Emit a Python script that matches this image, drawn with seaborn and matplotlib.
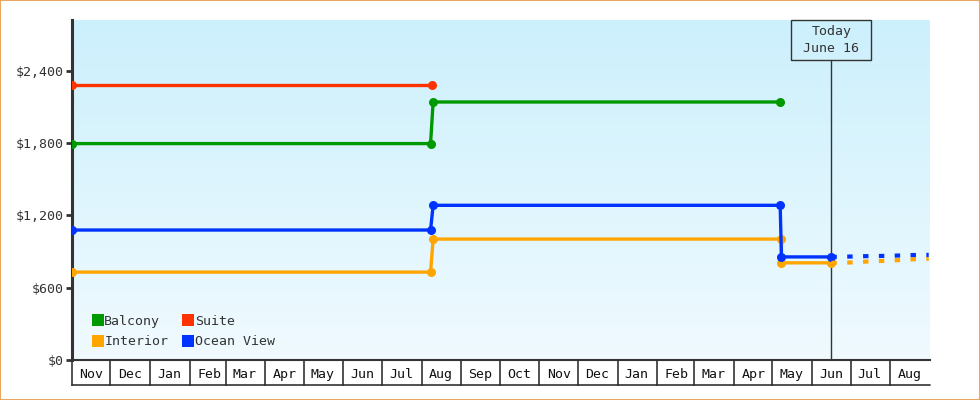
import numpy as np
import pandas as pd
import matplotlib
matplotlib.use("Agg")
import matplotlib.pyplot as plt
from matplotlib.colors import LinearSegmentedColormap
from matplotlib.lines import Line2D
from matplotlib.patches import Rectangle
import seaborn as sns

# ---- data ----
suite_dates = ['2022-11-01', '2023-08-09']
suite_price = [2280, 2280]

balcony_dates = ['2022-11-01', '2023-08-08', '2023-08-10', '2024-05-07']
balcony_price = [1795, 1795, 2140, 2140]

ocean_dates = ['2022-11-01', '2023-08-08', '2023-08-10', '2024-05-07', '2024-05-08', '2024-06-16']
ocean_price = [1078, 1078, 1283, 1283, 855, 855]

interior_dates = ['2022-11-01', '2023-08-08', '2023-08-10', '2024-05-08', '2024-05-08', '2024-06-16']
interior_price = [729, 729, 1003, 1003, 806, 806]

forecast_dates = ['2024-06-16', '2024-07-01', '2024-07-16', '2024-08-01', '2024-08-16', '2024-08-31']
ocean_forecast = [855, 858, 862, 864, 870, 872]
interior_forecast = [806, 809, 818, 824, 834, 840]

month_labels = ['Nov', 'Dec', 'Jan', 'Feb', 'Mar', 'Apr', 'May', 'Jun', 'Jul', 'Aug', 'Sep',
                'Oct', 'Nov', 'Dec', 'Jan', 'Feb', 'Mar', 'Apr', 'May', 'Jun', 'Jul', 'Aug']
y_ticks = [0, 600, 1200, 1800, 2400]
today = '2024-06-16'
today_label = 'Today\nJune 16'

colors = {'Balcony': '#009900', 'Suite': '#ff3300', 'Interior': '#ffa500', 'Ocean View': '#0033ff'}

# ---- figure ----
sns.set_style('white')
plt.rcParams['font.family'] = ['DejaVu Sans Mono']
plt.rcParams['font.size'] = 9.5
fig = plt.figure(figsize=(9.8, 4), dpi=100)
ax = fig.add_axes([72 / 980, 40 / 400, 858 / 980, 340 / 400])

x0 = pd.Timestamp('2022-11-01')
x1 = pd.Timestamp('2024-09-01')
ymax = 2820
ax.set_autoscale_on(False)
ax.set_xlim(x0, x1)
ax.set_ylim(0, ymax)

# gradient background
cmap = LinearSegmentedColormap.from_list('bg', ['#f0faff', '#ccf0fc'])
ax.imshow(np.linspace(0, 1, 256).reshape(-1, 1), cmap=cmap, origin='lower',
          extent=[0, 1, 0, 1], transform=ax.transAxes, aspect='auto', zorder=0)

series = [
    ('Suite', suite_dates, suite_price),
    ('Balcony', balcony_dates, balcony_price),
    ('Interior', interior_dates, interior_price),
    ('Ocean View', ocean_dates, ocean_price),
]
for name, d, p in series:
    sns.lineplot(x=pd.to_datetime(d), y=p, color=colors[name], lw=2.4, marker='o',
                 markersize=6.5, markeredgewidth=0, sort=False, estimator=None, ax=ax, zorder=3)

for name, p in [('Interior', interior_forecast), ('Ocean View', ocean_forecast)]:
    sns.lineplot(x=pd.to_datetime(forecast_dates), y=p, color=colors[name], lw=3.0,
                 linestyle=(0, (1.3, 2.5)), dash_capstyle='butt', sort=False,
                 estimator=None, ax=ax, zorder=3)

# today marker: box 80x40 px at the top, line down to the axis
t = pd.Timestamp(today)
tf = (t - x0) / (x1 - x0)
bw, bh = 80 / 858, 40 / 340
ax.plot([tf, tf], [0, 1 - bh], transform=ax.transAxes, color='#333333', lw=1, zorder=2)
ax.add_patch(Rectangle((tf - bw / 2, 1 - bh), bw, bh, transform=ax.transAxes, fill=False,
                       ec='#333333', lw=1, zorder=4, clip_on=False))
ax.text(tf, 1 - bh / 2, today_label, transform=ax.transAxes, ha='center', va='center',
        color='#333333', linespacing=1.45, fontsize=9.5, zorder=4)

# axes styling
for s in ['top', 'right']:
    ax.spines[s].set_visible(False)
ax.spines['left'].set_linewidth(2.2)
ax.spines['left'].set_color('#333333')
ax.spines['bottom'].set_linewidth(1.5)
ax.spines['bottom'].set_color('#333333')

ax.set_yticks(y_ticks)
ax.set_yticklabels(['${:,}'.format(v) for v in y_ticks], color='#333333')
ax.tick_params(axis='y', direction='out', length=4, width=2, color='#333333', pad=2, left=True)

bounds = pd.date_range(x0, '2024-08-01', freq='MS')
ax.set_xticks(bounds)
ax.set_xticklabels([])
ax.tick_params(axis='x', which='major', direction='out', length=18.5, width=1.2,
               color='#333333', bottom=True)
ax.set_xticks(bounds + pd.Timedelta(days=15), minor=True)
ax.set_xticklabels(month_labels, minor=True, color='#111111')
ax.tick_params(axis='x', which='minor', length=0, pad=6)
ax.plot([0, 1], [-25 / 340] * 2, transform=ax.transAxes, color='#333333', lw=1.2, clip_on=False)
ax.set_xlabel('')
ax.set_ylabel('')

# legend
names = ['Balcony', 'Interior', 'Suite', 'Ocean View']
handles = [Line2D([], [], marker='s', ls='none', markersize=8, color=colors[n], markeredgewidth=0)
           for n in names]
ax.legend(handles, names, ncol=2, loc='lower left', bbox_to_anchor=(0.01, 0.0),
          frameon=False, handlelength=0.8, handletextpad=0.1, columnspacing=1.1,
          labelspacing=0.55, fontsize=9.5, labelcolor='#333333')

# orange border around figure
fig.patches.append(Rectangle((0, 0), 1, 1, transform=fig.transFigure, fill=False,
                             ec='#e8a860', lw=1.5))

fig.savefig('out.png', dpi=100)
